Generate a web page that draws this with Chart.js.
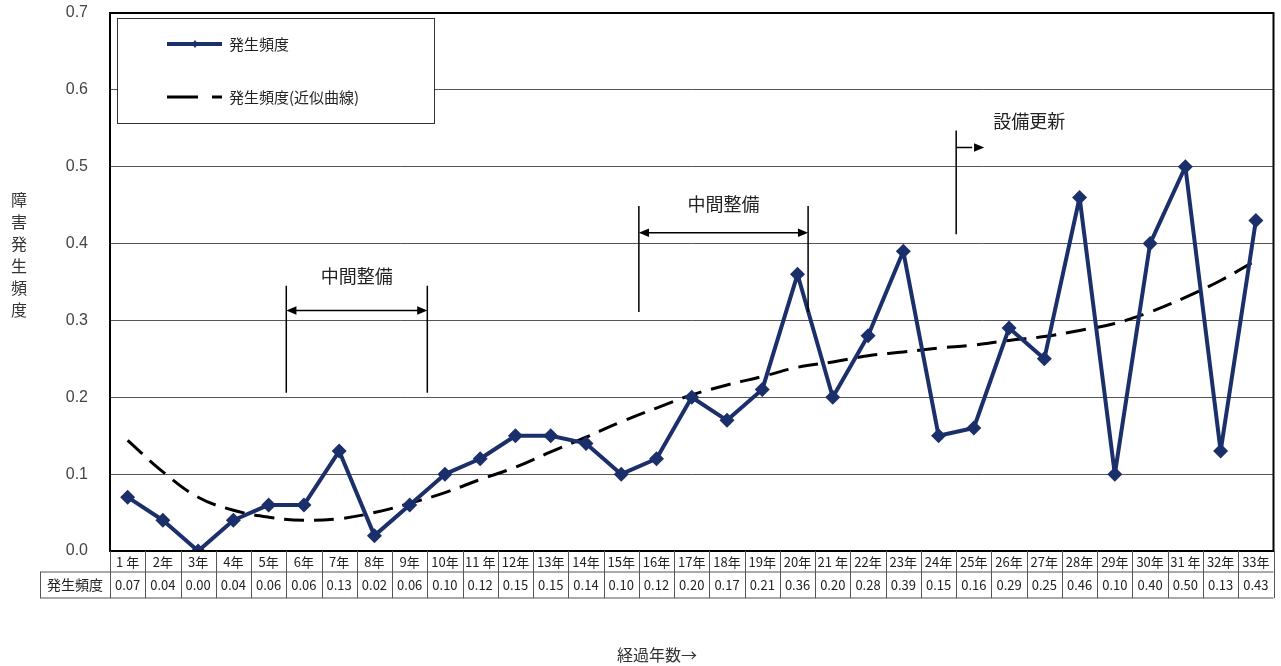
<!DOCTYPE html>
<html>
<head>
<meta charset="utf-8">
<script src="https://cdn.jsdelivr.net/npm/chart.js@4.4.0/dist/chart.umd.min.js"></script>
<style>
  html, body { margin: 0; padding: 0; background: #fff; }
  #wrap { width: 1281px; height: 666px; }
</style>
</head>
<body>
<div id="wrap"><canvas id="grafico" width="1281" height="666"></canvas></div>
<script>
// 経過年数ごとの障害発生頻度
const anos = ['1 年','2年','3年','4年','5年','6年','7年','8年','9年','10年','11 年','12年','13年','14年','15年','16年','17年','18年','19年','20年','21 年','22年','23年','24年','25年','26年','27年','28年','29年','30年','31 年','32年','33年'];
const frequencia = [0.07,0.04,0.00,0.04,0.06,0.06,0.13,0.02,0.06,0.10,0.12,0.15,0.15,0.14,0.10,0.12,0.20,0.17,0.21,0.36,0.20,0.28,0.39,0.15,0.16,0.29,0.25,0.46,0.10,0.40,0.50,0.13,0.43];
// 近似曲線 (読み取り値)
const aproximacao = [0.144,0.103,0.070,0.053,0.044,0.040,0.042,0.050,0.062,0.076,0.093,0.109,0.129,0.148,0.168,0.186,0.203,0.216,0.227,0.239,0.246,0.254,0.259,0.264,0.268,0.274,0.279,0.287,0.296,0.311,0.330,0.352,0.378];
const ticksY = [0.0,0.1,0.2,0.3,0.4,0.5,0.6,0.7];

const fonteJP = '"Noto Sans CJK JP", "Noto Sans", sans-serif';
const azul = '#1B2F6B';

function seta(ctx, x1, y1, x2, y2) {
    const ang = Math.atan2(y2 - y1, x2 - x1);
    const s = 11;
    ctx.beginPath();
    ctx.moveTo(x2, y2);
    ctx.lineTo(x2 - s * Math.cos(ang - 0.4), y2 - s * Math.sin(ang - 0.4));
    ctx.lineTo(x2 - s * Math.cos(ang + 0.4), y2 - s * Math.sin(ang + 0.4));
    ctx.closePath();
    ctx.fill();
}

// Moldura, tabela, legenda e anotações
const extras = {
    id: 'extras',
    afterDraw(chart) {
        const ctx = chart.ctx;
        const area = chart.chartArea;
        const x = chart.scales.x;
        const y = chart.scales.y;
        ctx.save();

        // moldura da área do gráfico
        ctx.strokeStyle = '#000';
        ctx.lineWidth = 2;
        ctx.strokeRect(area.left, area.top, area.right - area.left, area.bottom - area.top);

        // tabela de dados
        const r1 = area.bottom + 1, r2 = area.bottom + 21, r3 = area.bottom + 47;
        ctx.strokeStyle = '#555';
        ctx.lineWidth = 1;
        ctx.beginPath();
        ctx.moveTo(area.left, r2); ctx.lineTo(area.right, r2);
        ctx.moveTo(40, r3); ctx.lineTo(area.right, r3);
        ctx.moveTo(40, r2); ctx.lineTo(area.left, r2);
        ctx.moveTo(40.5, r2); ctx.lineTo(40.5, r3);
        for (let i = 0; i <= anos.length; i++) {
            const bx = Math.round(x.getPixelForValue(i - 0.5)) + 0.5;
            ctx.moveTo(bx, area.bottom); ctx.lineTo(bx, r3);
        }
        ctx.stroke();
        ctx.fillStyle = '#222';
        ctx.font = '13px ' + fonteJP;
        ctx.textBaseline = 'middle';
        ctx.textAlign = 'center';
        anos.forEach((a, i) => {
            const cx = x.getPixelForValue(i);
            ctx.fillText(a, cx, (r1 + r2) / 2);
            ctx.fillText(frequencia[i].toFixed(2), cx, (r2 + r3) / 2);
        });
        ctx.font = '14px ' + fonteJP;
        ctx.fillText('発生頻度', 75, (r2 + r3) / 2);

        // títulos dos eixos
        ctx.fillStyle = '#333';
        ctx.font = '16px ' + fonteJP;
        ctx.fillText('経過年数→', 657, 655);
        const tituloY = '障害発生頻度';
        for (let k = 0; k < tituloY.length; k++) {
            ctx.fillText(tituloY[k], 19, 200 + k * 22);
        }

        // legenda
        ctx.fillStyle = '#fff';
        ctx.fillRect(117.5, 18.5, 317, 105);
        ctx.strokeStyle = '#333';
        ctx.lineWidth = 1;
        ctx.strokeRect(117.5, 18.5, 317, 105);
        ctx.strokeStyle = azul;
        ctx.lineWidth = 4;
        ctx.beginPath(); ctx.moveTo(167, 44); ctx.lineTo(222, 44); ctx.stroke();
        ctx.fillStyle = azul;
        ctx.beginPath();
        ctx.moveTo(195, 40); ctx.lineTo(198, 44); ctx.lineTo(195, 48); ctx.lineTo(192, 44);
        ctx.closePath(); ctx.fill();
        ctx.strokeStyle = '#000';
        ctx.lineWidth = 3;
        ctx.beginPath();
        ctx.moveTo(167, 97); ctx.lineTo(198, 97);
        ctx.moveTo(212, 97); ctx.lineTo(222, 97);
        ctx.stroke();
        ctx.fillStyle = '#222';
        ctx.font = '15px ' + fonteJP;
        ctx.textAlign = 'left';
        ctx.fillText('発生頻度', 229, 44);
        ctx.fillText('発生頻度(近似曲線)', 229, 97);

        // anotações: 中間整備 / 設備更新
        ctx.strokeStyle = '#000';
        ctx.fillStyle = '#000';
        ctx.lineWidth = 1.5;
        const colchete = (iL, iR, vTop, vBot, vArrow, vText) => {
            const xl = x.getPixelForValue(iL), xr = x.getPixelForValue(iR);
            ctx.beginPath();
            ctx.moveTo(xl, y.getPixelForValue(vTop)); ctx.lineTo(xl, y.getPixelForValue(vBot));
            ctx.moveTo(xr, y.getPixelForValue(vTop)); ctx.lineTo(xr, y.getPixelForValue(vBot));
            const ya = y.getPixelForValue(vArrow);
            ctx.moveTo(xl + 6, ya); ctx.lineTo(xr - 6, ya);
            ctx.stroke();
            seta(ctx, xr - 20, ya, xr, ya);
            seta(ctx, xl + 20, ya, xl, ya);
            ctx.font = '18px ' + fonteJP;
            ctx.textAlign = 'center';
            ctx.fillStyle = '#222';
            ctx.fillText('中間整備', (xl + xr) / 2, y.getPixelForValue(vText));
            ctx.fillStyle = '#000';
        };
        colchete(4.5, 8.5, 0.345, 0.206, 0.313, 0.358);
        colchete(14.5, 19.3, 0.449, 0.311, 0.414, 0.451);

        const xs = x.getPixelForValue(23.5);
        const ys = y.getPixelForValue(0.525);
        ctx.beginPath();
        ctx.moveTo(xs, y.getPixelForValue(0.547)); ctx.lineTo(xs, y.getPixelForValue(0.412));
        ctx.moveTo(xs, ys); ctx.lineTo(xs + 16, ys);
        ctx.stroke();
        seta(ctx, xs + 10, ys, xs + 28, ys);
        ctx.font = '18px ' + fonteJP;
        ctx.textAlign = 'left';
        ctx.fillStyle = '#222';
        ctx.fillText('設備更新', xs + 37, y.getPixelForValue(0.559));

        ctx.restore();
    }
};

const ctx = document.getElementById('grafico').getContext('2d');
new Chart(ctx, {
    type: 'line',
    data: {
        labels: anos,
        datasets: [{
            label: '発生頻度',
            data: frequencia,
            borderColor: azul,
            backgroundColor: azul,
            borderWidth: 4,
            borderJoinStyle: 'round',
            pointStyle: 'rectRot',
            pointRadius: 7.5,
            pointBorderWidth: 0,
            tension: 0,
            order: 1
        }, {
            label: '発生頻度(近似曲線)',
            data: aproximacao,
            borderColor: '#000',
            borderWidth: 3,
            borderDash: [20, 10],
            pointRadius: 0,
            tension: 0.4,
            order: 2
        }]
    },
    options: {
        responsive: false,
        animation: false,
        devicePixelRatio: 1,
        layout: { padding: { top: 13, right: 7, bottom: 115, left: 0 } },
        plugins: {
            legend: { display: false },
            tooltip: { enabled: false }
        },
        scales: {
            x: {
                offset: true,
                grid: { display: false },
                border: { display: false },
                ticks: { display: false },
                afterFit: (s) => { s.height = 0; s.paddingLeft = 0; s.paddingRight = 0; }
            },
            y: {
                min: 0,
                max: 0.7,
                afterFit: (s) => { s.width = 110; s.paddingTop = 0; s.paddingBottom = 0; },
                afterBuildTicks: (s) => { s.ticks = ticksY.map(v => ({ value: v })); },
                grid: { color: '#555', lineWidth: 1, drawTicks: false },
                border: { display: false },
                ticks: {
                    padding: 22,
                    color: '#444',
                    font: { size: 16, family: '"Liberation Sans", Arial, sans-serif' },
                    callback: (v) => Number(v).toFixed(1)
                }
            }
        }
    },
    plugins: [extras]
});
</script>
</body>
</html>
